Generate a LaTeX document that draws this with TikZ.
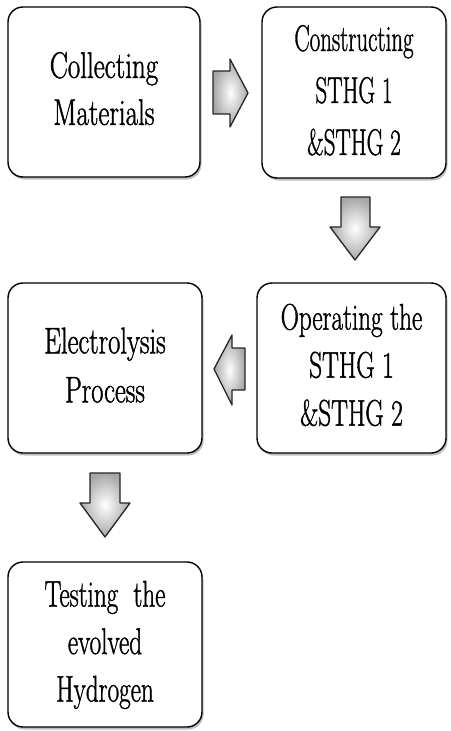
\documentclass[tikz,border=0pt]{standalone}
\usepackage{fontspec}
\usepackage{graphicx}
\newfontfamily\boxfont{Latin Modern Roman}[FakeBold=1.4]
\usetikzlibrary{shadows}
\newcommand{\narrowlines}[3]{\scalebox{#1}[1]{\boxfont\fontsize{37}{#2}\selectfont\begin{tabular}{@{}c@{}}#3\end{tabular}}}
\tikzset{
  stepbox/.style={draw=black, line width=1.4pt, rounded corners=15pt, fill=white,
    inner sep=0pt, align=center,
    drop shadow={shadow xshift=1.5pt, shadow yshift=-2.5pt, fill=black, opacity=0.25}},
  blockarrow/.style={draw=black!85, line width=1.3pt, line join=round,
    inner color=white, outer color=black!35}
}
\begin{document}
\begin{tikzpicture}[x=1pt,y=-1pt]
\useasboundingbox (0,0) rectangle (450,731);
\fill[white] (0,0) rectangle (450,731);
\node[stepbox, minimum width=192pt, minimum height=170pt] (b1) at (104,92) {\narrowlines{0.73}{47}{Collecting\\Materials}};
\node[stepbox, minimum width=184pt, minimum height=171pt] (b2) at (354,92.5) {\raisebox{-5pt}{\narrowlines{0.62}{52}{Constructing\\STHG 1\\\&STHG 2}}};
\node[stepbox, minimum width=194pt, minimum height=170pt] (b3) at (105,368) {\narrowlines{0.72}{49}{Electrolysis\\Process}};
\node[stepbox, minimum width=189pt, minimum height=170pt] (b4) at (351.5,368) {\narrowlines{0.68}{48}{Operating the\\STHG 1\\\&STHG 2}};
\node[stepbox, minimum width=194pt, minimum height=165pt] (b5) at (105,644.5) {\narrowlines{0.68}{47.5}{Testing\ \ the\\evolved\\Hydrogen}};
% block arrows
\path[blockarrow] (213,71) -- (230,71) -- (230,59) -- (248,93) -- (230,127) -- (230,114) -- (213,114) -- cycle;
\path[blockarrow] (341,197) -- (370,197) -- (370,227) -- (380,227) -- (355,260) -- (330,227) -- (341,227) -- cycle;
\path[blockarrow] (245,348) -- (232,348) -- (232,335) -- (214,369) -- (232,405) -- (232,390) -- (245,390) -- cycle;
\path[blockarrow] (90,473) -- (120,473) -- (120,503) -- (130,503) -- (105,537) -- (80,503) -- (90,503) -- cycle;
\end{tikzpicture}
\end{document}
